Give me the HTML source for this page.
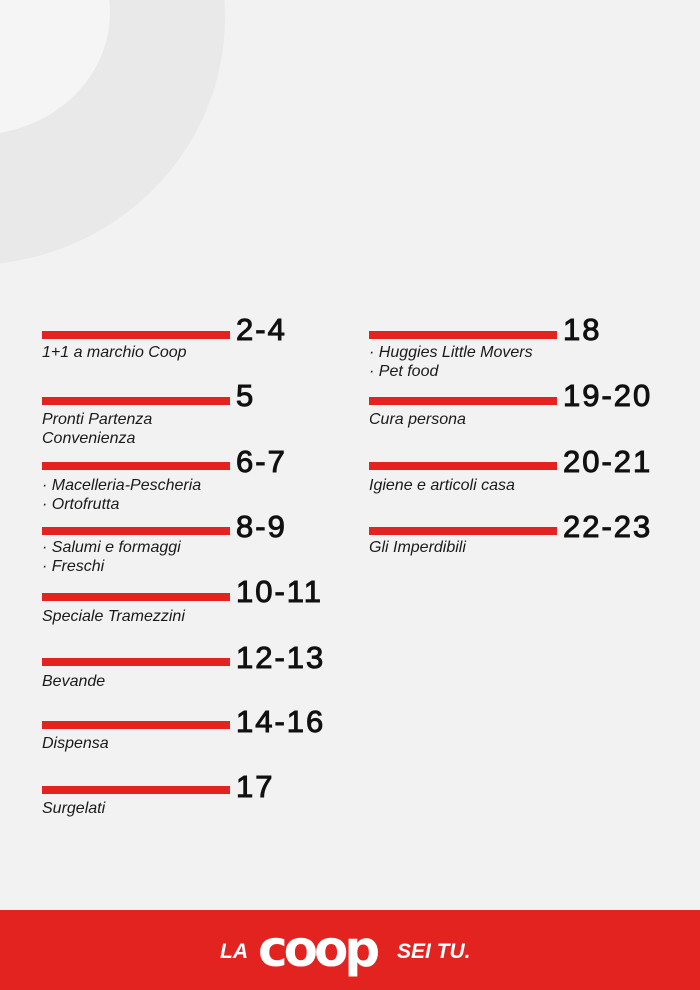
<!DOCTYPE html><html><head><style>
body{margin:0;width:700px;height:990px;overflow:hidden;background:#f2f2f2;position:relative;font-family:"Liberation Sans",sans-serif}
.ring{position:absolute;left:-285px;top:-230px;width:510px;height:495px;border-radius:50%;background:#e9e9e9}
.hole{position:absolute;left:-160px;top:-110px;width:270px;height:245px;border-radius:50%;background:#f5f5f5}
.bar{position:absolute;height:8px;width:188px;background:#e42320}
.num{position:absolute;font-family:"Liberation Sans",sans-serif;font-size:31px;font-weight:normal;-webkit-text-stroke:1px #111;color:#111;line-height:1;letter-spacing:2px}
.t{position:absolute;font-style:italic;font-size:16px;color:#1a1a1a;line-height:19px}
.foot{position:absolute;left:0;top:910px;width:700px;height:80px;background:#e2231f;color:#fff;font-weight:bold;font-style:italic}
</style></head><body>
<div class="ring"></div><div class="hole"></div>

<div class="bar" style="left:42px;top:331px"></div><div class="num" style="left:236px;top:314px">2-4</div><div class="t" style="left:42px;top:343px">1+1 a marchio Coop</div>
<div class="bar" style="left:42px;top:397px"></div><div class="num" style="left:236px;top:380px">5</div><div class="t" style="left:42px;top:410px">Pronti Partenza<br>Convenienza</div>
<div class="bar" style="left:42px;top:462px"></div><div class="num" style="left:236px;top:446px">6-7</div><div class="t" style="left:42px;top:476px">· Macelleria-Pescheria<br>· Ortofrutta</div>
<div class="bar" style="left:42px;top:527px"></div><div class="num" style="left:236px;top:511px">8-9</div><div class="t" style="left:42px;top:538px">· Salumi e formaggi<br>· Freschi</div>
<div class="bar" style="left:42px;top:593px"></div><div class="num" style="left:236px;top:576px">10-11</div><div class="t" style="left:42px;top:607px">Speciale Tramezzini</div>
<div class="bar" style="left:42px;top:658px"></div><div class="num" style="left:236px;top:642px">12-13</div><div class="t" style="left:42px;top:672px">Bevande</div>
<div class="bar" style="left:42px;top:721px"></div><div class="num" style="left:236px;top:706px">14-16</div><div class="t" style="left:42px;top:734px">Dispensa</div>
<div class="bar" style="left:42px;top:786px"></div><div class="num" style="left:236px;top:771px">17</div><div class="t" style="left:42px;top:799px">Surgelati</div>

<div class="bar" style="left:369px;top:331px"></div><div class="num" style="left:563px;top:314px">18</div><div class="t" style="left:369px;top:343px">· Huggies Little Movers<br>· Pet food</div>
<div class="bar" style="left:369px;top:397px"></div><div class="num" style="left:563px;top:380px">19-20</div><div class="t" style="left:369px;top:410px">Cura persona</div>
<div class="bar" style="left:369px;top:462px"></div><div class="num" style="left:563px;top:446px">20-21</div><div class="t" style="left:369px;top:476px">Igiene e articoli casa</div>
<div class="bar" style="left:369px;top:527px"></div><div class="num" style="left:563px;top:511px">22-23</div><div class="t" style="left:369px;top:538px">Gli Imperdibili</div>

<div class="foot">
<div style="position:absolute;left:220px;top:30px;font-size:21px">LA</div>
<div style="position:absolute;left:258px;top:14px;font-size:50px;font-style:normal;letter-spacing:-4px;line-height:1;font-family:'DejaVu Sans',sans-serif">coop</div>
<div style="position:absolute;left:397px;top:30px;font-size:21px">SEI TU.</div>
</div>
</body></html>
